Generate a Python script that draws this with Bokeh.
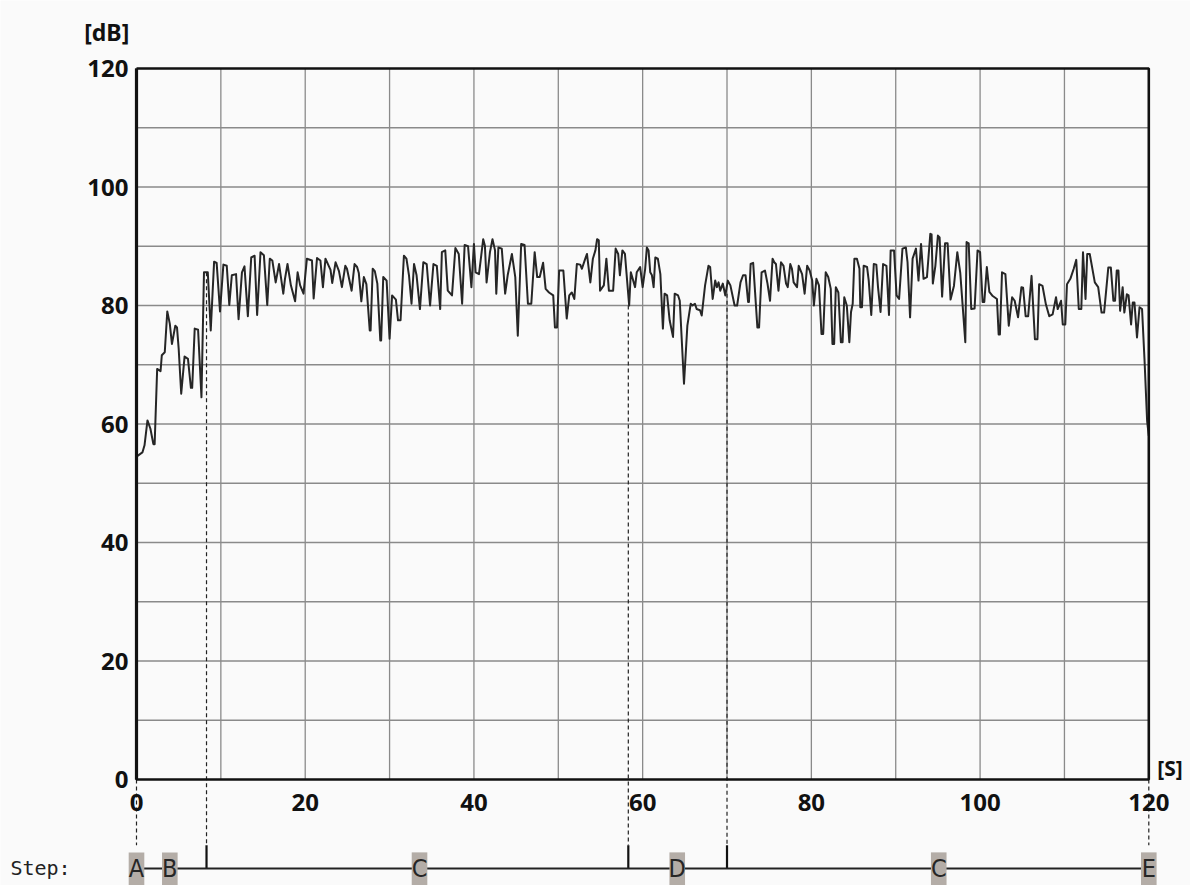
from bokeh.plotting import figure
from bokeh.models import Range1d
from bokeh.embed import file_html
from bokeh.resources import INLINE
from bokeh.core.properties import value

# ---------------- data ----------------
time_s = [
    0.0, 0.7, 0.95, 1.3, 1.65, 2.0, 2.15, 2.45, 2.85, 3.0, 3.35, 3.65, 3.95, 4.2, 4.6, 4.8,
    5.0, 5.3, 5.7, 6.1, 6.45, 6.6, 6.9, 7.3, 7.7, 8.0, 8.45, 8.8, 9.2, 9.5, 9.9,
    10.3, 10.7, 11.0, 11.3, 11.8, 12.1, 12.5, 12.8, 13.2, 13.6, 14.0, 14.3, 14.7, 15.1,
    15.5, 15.8, 16.1, 16.5, 16.9, 17.4, 17.6, 17.9, 18.3, 18.8, 19.1, 19.4, 19.8,
    20.2, 20.8, 21.0, 21.4, 21.8, 22.1, 22.4, 23.0, 23.2, 23.6, 24.0, 24.35, 24.75,
    24.95, 25.5, 25.85, 26.15, 26.35, 26.65, 26.95, 27.25, 27.65, 27.75, 28.0, 28.25,
    28.55, 28.9, 29.0, 29.25, 29.65, 30.0, 30.3, 30.75, 31.0, 31.3, 31.7, 32.0, 32.3,
    32.6, 32.9, 33.2, 33.6, 34.0, 34.4, 34.8, 35.2, 35.6, 36.0, 36.2, 36.6, 36.9, 37.4,
    37.8, 38.2, 38.6, 38.9, 39.3, 39.7, 40.0, 40.2, 40.6, 41.1, 41.3, 41.5, 41.9, 42.2,
    42.5, 42.65, 42.9, 43.3, 43.7, 44.0, 44.5, 44.9, 45.2, 45.6, 46.0, 46.4, 46.8, 47.2,
    47.5, 47.8, 48.2, 48.5, 48.9, 49.4, 49.6, 49.85, 50.1, 50.6, 51.0, 51.3, 51.6, 51.9,
    52.2, 52.6, 52.8, 53.2, 53.4, 53.8, 54.1, 54.4, 54.6, 54.8, 54.95, 55.4, 55.7, 56.0,
    56.5, 56.8, 57.1, 57.3, 57.6, 57.9, 58.4, 58.6, 59.1, 59.3, 59.7, 60.0, 60.3, 60.5,
    60.7, 60.9, 61.1, 61.3, 61.5, 61.8, 62.1, 62.4, 62.6, 62.9, 63.2, 63.6, 63.8, 64.2,
    64.4, 64.9, 65.3, 65.7, 65.9, 66.2, 66.4, 66.8, 67.0, 67.4, 67.8, 68.0, 68.3, 68.6,
    68.8, 69.0, 69.2, 69.5, 69.8, 70.1, 70.4, 70.9, 71.2, 71.6, 71.9, 72.2, 72.5, 72.6,
    72.8, 73.1, 73.6, 73.8, 74.1, 74.5, 74.8, 75.1, 75.4, 75.6, 75.8, 76.1, 76.4, 76.7,
    77.0, 77.2, 77.5, 77.7, 77.9, 78.3, 78.5, 78.9, 79.2, 79.5, 79.8, 80.1, 80.3, 80.6,
    80.9, 81.2, 81.4, 81.7, 82.0, 82.3, 82.5, 82.7, 82.9, 83.2, 83.5, 83.7, 83.9, 84.2,
    84.5, 84.7, 84.9, 85.1, 85.4, 85.7, 85.8, 86.0, 86.2, 86.6, 86.8, 87.1, 87.4, 87.7,
    87.9, 88.2, 88.5, 88.9, 89.2, 89.4, 89.8, 90.1, 90.4, 90.8, 91.2, 91.4, 91.7, 92.0,
    92.4, 92.7, 93.0, 93.3, 93.7, 94.1, 94.25, 94.4, 94.7, 95.0, 95.2, 95.5, 95.85, 96.15,
    96.5, 96.9, 97.3, 97.65, 98.25, 98.4, 98.65, 98.95, 99.35, 99.7, 100.0, 100.3, 100.5,
    100.8, 101.1, 101.5, 102.0, 102.2, 102.35, 102.6, 103.0, 103.4, 103.8, 104.1, 104.5,
    104.9, 105.1, 105.4, 105.7, 106.1, 106.5, 106.8, 107.0, 107.4, 107.8, 108.2, 108.6,
    109.0, 109.2, 109.6, 109.8, 110.1, 110.3, 110.7, 111.1, 111.4, 111.7, 112.0, 112.2,
    112.5, 112.7, 113.0, 113.6, 114.0, 114.4, 114.7, 115.2, 115.5, 115.8, 116.0, 116.2,
    116.4, 116.6, 116.9, 117.1, 117.4, 117.6, 117.9, 118.1, 118.3, 118.6, 118.9, 119.2,
    119.5, 119.8, 120.0,
]
level_db = [
    54.5, 55.2, 56.4, 60.6, 59.2, 56.6, 56.6, 69.3, 68.9, 71.6, 72.1, 79.0, 76.9, 73.5, 76.6, 76.3,
    72.7, 65.1, 71.4, 71.0, 66.1, 66.1, 76.1, 75.9, 64.5, 85.6, 85.6, 75.8, 87.4, 87.2, 79.0,
    86.9, 86.7, 80.1, 85.1, 85.3, 77.7, 85.6, 86.6, 78.2, 88.1, 88.4, 78.4, 89.0, 88.5,
    80.1, 87.9, 87.6, 83.9, 87.0, 82.0, 84.5, 87.0, 83.4, 80.7, 85.6, 83.4, 82.0,
    87.9, 87.6, 81.2, 88.0, 87.6, 83.1, 87.9, 86.0, 83.8, 87.3, 85.8, 83.1, 86.7,
    86.2, 82.5, 87.0, 86.5, 85.5, 80.7, 84.8, 83.6, 75.8, 75.8, 86.2, 85.8,
    83.7, 74.1, 74.1, 84.8, 84.2, 74.4, 81.7, 81.0, 77.5, 77.5, 88.4, 87.9, 85.1,
    80.3, 87.0, 85.1, 79.4, 87.3, 87.0, 80.0, 87.0, 86.7, 79.4, 89.0, 89.3, 82.5, 81.7,
    89.7, 88.7, 80.3, 90.2, 90.0, 83.1, 90.4, 85.6, 85.3, 91.2, 90.1, 83.9, 89.0, 91.2,
    89.3, 82.0, 89.8, 89.6, 82.0, 85.1, 88.7, 84.8, 74.9, 90.4, 90.2, 80.3, 80.3, 89.0,
    84.8, 84.8, 87.2, 82.8, 82.2, 81.7, 76.3, 76.3, 85.9, 85.9, 77.8, 81.7, 82.2, 81.1,
    87.0, 86.9, 86.2, 87.9, 88.7, 83.9, 87.9, 89.3, 91.2, 91.0, 82.5, 83.4, 87.9, 82.5,
    82.5, 89.6, 88.7, 85.1, 89.3, 88.7, 80.0, 85.6, 83.1, 85.6, 86.5, 83.1, 86.2, 89.8,
    89.3, 85.6, 85.1, 83.1, 88.1, 87.9, 85.3, 76.1, 82.0, 81.7, 77.5, 74.7, 82.0, 81.7,
    80.8, 66.8, 76.6, 80.3, 80.0, 80.3, 79.4, 79.2, 78.3, 83.4, 86.7, 86.5, 81.1, 84.2,
    83.1, 83.9, 82.5, 83.7, 81.7, 84.2, 83.4, 80.0, 80.0, 83.9, 85.1, 85.1, 80.6, 80.6,
    87.0, 87.2, 76.3, 76.3, 85.6, 85.9, 83.7, 80.8, 87.9, 87.3, 87.0, 82.5, 87.3, 86.7,
    83.7, 83.1, 87.0, 86.2, 83.9, 83.1, 86.7, 85.3, 82.0, 86.7, 85.9, 84.2, 80.0, 84.5,
    83.4, 75.2, 75.2, 85.6, 84.8, 82.8, 73.5, 73.5, 83.1, 82.2, 73.8, 73.8, 81.4, 80.0,
    73.8, 78.9, 80.3, 87.9, 87.9, 86.2, 79.7, 79.7, 86.7, 86.5, 84.2, 78.4, 87.0, 86.9,
    83.1, 78.9, 87.0, 86.7, 78.4, 89.3, 89.3, 81.7, 81.1, 89.6, 89.8, 87.3, 78.0, 87.9,
    89.6, 84.2, 90.4, 84.5, 84.8, 92.1, 92.0, 83.7, 86.7, 91.8, 91.5, 81.5, 90.5, 90.5,
    81.0, 83.3, 89.0, 85.5, 73.8, 90.7, 90.5, 79.4, 79.5, 89.3, 89.0, 80.6, 80.6,
    86.5, 82.3, 81.6, 81.1, 75.1, 75.1, 85.6, 85.3, 76.6, 81.4, 80.8, 78.0,
    83.1, 83.0, 78.2, 78.2, 85.0, 74.3, 74.3, 83.6, 83.3, 80.2, 78.2, 78.5,
    81.4, 79.4, 80.8, 76.8, 76.8, 83.6, 84.5, 86.2, 87.7, 79.4, 79.4, 89.0,
    81.1, 88.7, 88.7, 83.9, 83.1, 78.8, 78.8, 86.4, 86.4, 80.8, 80.8, 85.9,
    85.9, 79.1, 83.1, 78.8, 81.9, 81.7, 76.8, 80.5, 80.5, 74.6, 79.7, 79.4,
    70.6, 60.5, 58.0,
]

x_tick_values = [0, 20, 40, 60, 80, 100, 120]
x_tick_labels = ["0", "20", "40", "60", "80", "100", "120"]
y_tick_values = [0, 20, 40, 60, 80, 100, 120]
y_tick_labels = ["0", "20", "40", "60", "80", "100", "120"]
grid_x = [10, 20, 30, 40, 50, 60, 70, 80, 90, 100, 110]
grid_y = [10, 20, 30, 40, 50, 60, 70, 80, 90, 100, 110]

step_names = ["A", "B", "C", "D", "C", "E"]
step_times = [0.0, 3.95, 33.55, 64.1, 95.1, 120.0]
boundary_times = [0.0, 8.3, 58.3, 70.0, 120.0]
boundary_tops = [0.0, 85.6, 80.0, 82.0, 0.0]
inner_boundaries = [8.3, 58.3, 70.0]

# ---------------- figure ----------------
BG = "#fafafa"
W, H = 1190, 885
PX_X = (1148.3 - 136.0) / 120.0   # pixels per second
PX_Y = (779.0 - 68.0) / 120.0     # pixels per dB
x0 = -136.0 / PX_X
x1 = (W - 136.0) / PX_X
y1 = 120.0 + 68.0 / PX_Y
y0 = -(H - 779.0) / PX_Y

p = figure(width=W, height=H, output_backend="svg", toolbar_location=None,
           x_range=Range1d(x0, x1), y_range=Range1d(y0, y1),
           x_axis_location=None, y_axis_location=None, min_border=0,
           background_fill_color=BG, border_fill_color=BG)
p.outline_line_color = None
p.grid.grid_line_color = None

GRID = "#8a8a8a"
INK = "#111111"
FONT = value("Noto Sans")

# grid
p.segment(x0=grid_x, y0=0, x1=grid_x, y1=120, line_color=GRID, line_width=1.3)
p.segment(x0=0, y0=grid_y, x1=120, y1=grid_y, line_color=GRID, line_width=1.3)

# signal
p.line(time_s, level_db, line_color="#262626", line_width=2.0, line_join="round")

# dashed boundary markers
p.segment(x0=boundary_times, y0=boundary_tops, x1=boundary_times, y1=-11.1,
          line_color="#222222", line_width=1.2, line_dash="4 3")
p.segment(x0=inner_boundaries, y0=-11.1, x1=inner_boundaries, y1=-15.0,
          line_color=INK, line_width=2.2)

# frame
p.line([0, 120, 120, 0, 0], [120, 120, 0, 0, 120], line_color=INK, line_width=2.6)
p.line([0, 0], [0, 120], line_color=INK, line_width=3.2)

# step row
p.line([0, 120], [-15.0, -15.0], line_color="#222222", line_width=2)
p.rect(x=step_times, y=-15.2, width=1.85, height=5.8, fill_color="#b4ada7",
       line_color=None)
p.text(x=step_times, y=-15.0, text=step_names, text_align="center",
       text_baseline="middle", text_font=value("DejaVu Sans Condensed"),
       text_font_size="25px", text_color="#262626")

# tick labels
p.text(x=x_tick_values, y=-3.9, text=x_tick_labels, text_align="center",
       text_baseline="middle", text_font=FONT, text_font_style="bold",
       text_font_size="24px", text_color=INK)
p.text(x=-0.95, y=y_tick_values, text=y_tick_labels, text_align="right",
       text_baseline="middle", text_font=FONT, text_font_style="bold",
       text_font_size="24px", text_color=INK)

# unit labels
p.text(x=[-6.2], y=[126.2], text=["[dB]"], text_baseline="middle",
       text_font=FONT, text_font_style="bold", text_font_size="23px", text_color=INK)
p.text(x=[121.0], y=[2.0], text=["[S]"], text_baseline="middle",
       text_font=FONT, text_font_style="bold", text_font_size="21px", text_color=INK)
p.text(x=[-14.95], y=[-15.0], text=["Step:"], text_baseline="middle",
       text_font=value("DejaVu Sans Mono"), text_font_size="20px", text_color="#222222")

open("out.html", "w").write(file_html(p, INLINE))
